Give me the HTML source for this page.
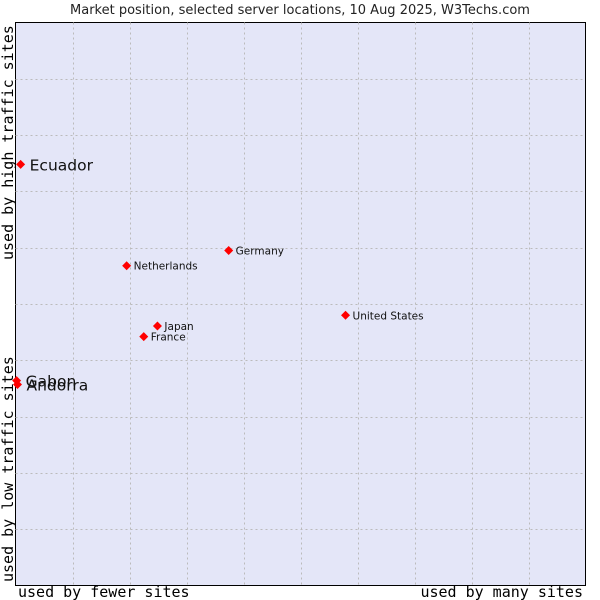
<!DOCTYPE html>
<html><head><meta charset="utf-8"><style>
body{margin:0;background:#fff;width:600px;height:600px;overflow:hidden}
svg{display:block}
</style></head><body>
<svg id="c" width="600" height="600" font-family="DejaVu Sans, Liberation Sans, sans-serif">
<text x="300" y="14" text-anchor="middle" font-size="13" fill="#222">Market position, selected server locations, 10 Aug 2025, W3Techs.com</text>
<rect x="15.5" y="22.5" width="570" height="563" fill="#e4e6f8" stroke="#000"/>
<g id="grid"></g>
<g id="pts"></g>
<text x="18" y="597" font-family="DejaVu Sans Mono, Liberation Mono, monospace" font-size="15" fill="#000">used by fewer sites</text>
<text x="583" y="597" text-anchor="end" font-family="DejaVu Sans Mono, Liberation Mono, monospace" font-size="15" fill="#000">used by many sites</text>
<text transform="translate(13,260) rotate(-90)" font-family="DejaVu Sans Mono, Liberation Mono, monospace" font-size="15" fill="#000">used by high traffic sites</text>
<text transform="translate(13,582) rotate(-90)" font-family="DejaVu Sans Mono, Liberation Mono, monospace" font-size="15" fill="#000">used by low traffic sites</text>
</svg>
<script>
const names=["Ecuador","Gabon","Andorra","Netherlands","Germany","Japan","France","United States"];
const xVals=[0.9,0.2,0.35,19.5,37.4,24.9,22.5,57.9];
const yVals=[74.8,36.4,35.7,56.8,59.5,46.1,44.2,48.0];
const bigLabel=[true,true,true,false,false,false,false,false];
const L=15.5,R=585.5,T=22.5,B=585.5;
const sx=v=>L+v/100*(R-L), sy=v=>B-v/100*(B-T);
const NS="http://www.w3.org/2000/svg";
const g=document.getElementById('grid');
for(let i=1;i<10;i++){
 const v=document.createElementNS(NS,'line');
 
 
 const x=Math.round(sx(i*10))+0.5;
 v.setAttribute('x1',x);v.setAttribute('x2',x);v.setAttribute('y1',T);v.setAttribute('y2',B);
 v.setAttribute('stroke','#bbb');v.setAttribute('stroke-dasharray','2,3');g.appendChild(v);
 const h=document.createElementNS(NS,'line');
 
 
 const y=Math.round(sy(i*10))+0.5;
 h.setAttribute('y1',y);h.setAttribute('y2',y);h.setAttribute('x1',L);h.setAttribute('x2',R);
 h.setAttribute('stroke','#bbb');h.setAttribute('stroke-dasharray','2,3');g.appendChild(h);
}
const p=document.getElementById('pts');
names.forEach((n,i)=>{
 const x=sx(xVals[i]),y=sy(yVals[i]);
 const d=document.createElementNS(NS,'path');
 
 
 d.setAttribute('d',`M${x} ${y-4.5}L${x+4.5} ${y}L${x} ${y+4.5}L${x-4.5} ${y}Z`);
 d.setAttribute('fill','#f00');p.appendChild(d);
 const t=document.createElementNS(NS,'text');
 
 
 t.setAttribute('x',x+(bigLabel[i]?9:7));
 t.setAttribute('y',y+(bigLabel[i]?6:4));
 t.setAttribute('font-size',bigLabel[i]?15.5:10.5);
 t.setAttribute('fill','#111');
 t.textContent=n;p.appendChild(t);
});
</script>
</body></html>
